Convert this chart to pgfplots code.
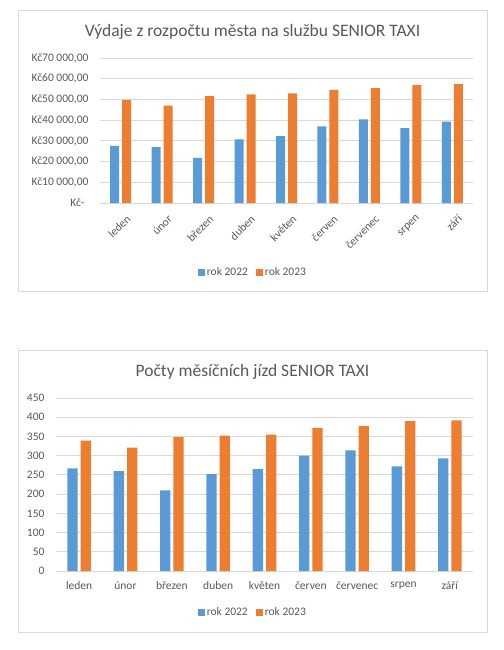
\documentclass[border=0pt]{standalone}
\usepackage{pgfplots}
\pgfplotsset{compat=1.18}
\usepackage{fontspec}
\setmainfont{Carlito}
\definecolor{barblue}{HTML}{5B9BD5}
\definecolor{barorange}{HTML}{ED7D31}
\definecolor{gridgray}{HTML}{D9D9D9}
\definecolor{txtgray}{HTML}{595959}
\pgfplotsset{
  excelbar/.style={
    scale only axis,
    ybar=3pt,
    xmin=-0.5, xmax=8.5, ymin=0,
    xtick={0,...,8},
    xticklabels={leden,únor,březen,duben,květen,červen,červenec,srpen,září},
    axis line style={draw=none},
    major tick length=0pt,
    scaled y ticks=false,
    ymajorgrids, grid style={gridgray, line width=0.8pt},
    tick label style={font=\fontsize{11.5}{13}\selectfont, text=txtgray},
    /pgf/number format/assume math mode=true,
    yticklabel style={xshift=-8pt},
    legend columns=2,
    legend style={draw=none, fill=none, font=\fontsize{11.5}{13}\selectfont,
      text=txtgray, /tikz/every even column/.append style={column sep=6pt}},
    legend image code/.code={\fill[##1] (0pt,-3.5pt) rectangle (7pt,3.5pt);},
  }
}
\begin{document}
\begin{tikzpicture}
\path[fill=white] (0pt,0pt) rectangle (503pt,-650pt);
\draw[gridgray] (18pt,-10pt) rectangle (487pt,-291pt);
\draw[gridgray] (18pt,-350pt) rectangle (487pt,-632pt);
\node[text=txtgray, font=\fontsize{17.5}{21}\selectfont] at (252.5pt,-32pt)
  {Výdaje z rozpočtu města na službu SENIOR TAXI};
\node[text=txtgray, font=\fontsize{17.5}{21}\selectfont] at (252.5pt,-372pt)
  {Počty měsíčních jízd SENIOR TAXI};

\begin{axis}[excelbar,
  at={(100pt,-203pt)}, anchor=south west,
  width=373pt, height=145pt,
  bar width=9pt,
  ymax=70000,
  ytick={0,10000,20000,30000,40000,50000,60000,70000},
  yticklabels={{Kč-\hspace*{4pt}},{Kč10 000,00},{Kč20 000,00},{Kč30 000,00},
    {Kč40 000,00},{Kč50 000,00},{Kč60 000,00},{Kč70 000,00}},
  xticklabel style={rotate=45, anchor=north east, yshift=-8pt, xshift=-1pt},
  legend style={at={(0.41,-0.476)}, anchor=center},
]
\addplot[fill=barblue, draw=none] coordinates {
  (0,27600) (1,27000) (2,21800) (3,30700) (4,32300)
  (5,37000) (6,40400) (7,36200) (8,39300)};
\addlegendentry{rok 2022}
\addplot[fill=barorange, draw=none] coordinates {
  (0,49800) (1,47000) (2,51600) (3,52400) (4,52900)
  (5,54600) (6,55400) (7,56900) (8,57400)};
\addlegendentry{rok 2023}
\end{axis}

\begin{axis}[excelbar,
  at={(56pt,-571pt)}, anchor=south west,
  width=417pt, height=173pt,
  bar width=10.3pt,
  ymax=450,
  ytick={0,50,...,450},
  xticklabel style={yshift=-7pt},
  legend style={at={(0.472,-0.237)}, anchor=center},
]
\addplot[fill=barblue, draw=none] coordinates {
  (0,267) (1,260) (2,210) (3,252) (4,265)
  (5,300) (6,314) (7,272) (8,293)};
\addlegendentry{rok 2022}
\addplot[fill=barorange, draw=none] coordinates {
  (0,339) (1,321) (2,348) (3,352) (4,355)
  (5,372) (6,377) (7,390) (8,392)};
\addlegendentry{rok 2023}
\end{axis}
\end{tikzpicture}
\end{document}
